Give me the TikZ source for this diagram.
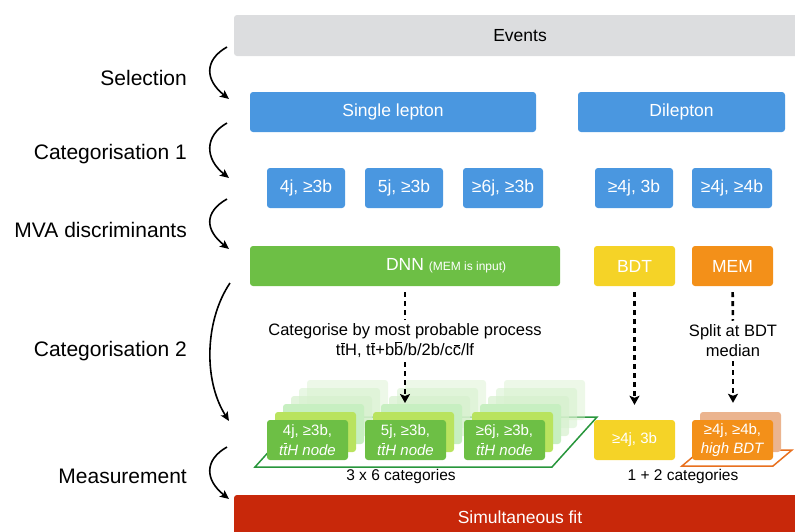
\documentclass[tikz,border=0pt]{standalone}
\usepackage{fontspec}
\setmainfont{Liberation Sans}
\usetikzlibrary{arrows.meta}

\definecolor{evgray}{RGB}{220,221,223}
\definecolor{lepblue}{RGB}{74,151,224}
\definecolor{dnngreen}{RGB}{109,191,69}
\definecolor{limegreen}{RGB}{185,227,94}
\definecolor{palegreen}{RGB}{199,239,193}
\definecolor{ghostgreen}{RGB}{214,240,205}
\definecolor{bdtyellow}{RGB}{245,211,39}
\definecolor{memorange}{RGB}{243,144,25}
\definecolor{paleorange}{RGB}{235,180,143}
\definecolor{fitred}{RGB}{200,40,10}
\definecolor{planegreen}{RGB}{40,150,60}
\definecolor{planeorange}{RGB}{232,112,30}

% bar over a letter (anti-quark)
\newcommand\brr[1]{{\setbox0\hbox{#1}\rlap{\hbox to\wd0{\hss\rule[\dimexpr\ht0+0.08em\relax]{0.8\wd0}{0.065em}\hss}}\box0}}

\begin{document}
\begin{tikzpicture}[x=1pt,y=-1pt,
		box/.style={rectangle,rounded corners=3pt,inner sep=0pt,text=white,align=center,
			font=\fontsize{17.5}{21}\selectfont},
		card/.style={box,minimum width=81,minimum height=40,font=\fontsize{15}{19.5}\selectfont},
		stage/.style={anchor=east,inner sep=0pt,font=\fontsize{21}{25}\selectfont},
		note/.style={align=center,inner sep=1pt,font=\fontsize{16.5}{20}\selectfont},
		count/.style={inner sep=1pt,font=\fontsize{15.5}{19}\selectfont},
		flow/.style={-{Stealth[length=9pt,width=8pt,inset=2pt]},line width=1.6pt},
		dsh/.style={line width=2.6pt,dash pattern=on 5pt off 4pt},
		dtip/.style={dsh,-{Stealth[length=9pt,width=10pt,inset=2pt]}}]

		\useasboundingbox (0,0) rectangle (795,531);
		\clip (0,0) rectangle (795,531);

		% stages on the left
		\node[stage] (sel)  at (187,78)  {Selection};
		\node[stage] (cat1) at (187,154) {Categorisation 1};
		\node[stage] (mva)  at (187,230) {MVA discriminants};
		\node[stage] (cat2) at (187,351) {Categorisation 2};
		\node[stage] (meas) at (187,476) {Measurement};

		\foreach \n/\ya/\yb in {1/47/99, 2/123/178, 3/199/249, 5/447/499}{
			\coordinate (up\n) at (227,\ya);
			\coordinate (dn\n) at (229,\yb);
			\draw[flow] (up\n) .. controls +(-23,13) and +(-24,-19) .. (dn\n);
		}
		\coordinate (up4) at (230,283);
		\coordinate (dn4) at (229,421);
		\draw[flow] (up4) .. controls +(-25,37) and +(-26,-41) .. (dn4);

		% boxes
		\node[box,fill=evgray,text=black,minimum width=572,minimum height=41] (events) at (520,35.5) {Events};

		\node[box,fill=lepblue,minimum width=286,minimum height=40] (single) at (393,112) {Single lepton};
		\node[box,fill=lepblue,minimum width=207,minimum height=40] (dilep) at (681.5,112) {Dilepton};

		\node[box,fill=lepblue,minimum width=78,minimum height=40] (sl4) at (306,188) {4j, ≥3b};
		\node[box,fill=lepblue,minimum width=78,minimum height=40] (sl5) at (404,188) {5j, ≥3b};
		\node[box,fill=lepblue,minimum width=80,minimum height=40] (sl6) at (503,188) {≥6j, ≥3b};
		\node[box,fill=lepblue,minimum width=78,minimum height=40] (dl3) at (634,188) {≥4j, 3b};
		\node[box,fill=lepblue,minimum width=80,minimum height=40] (dl4) at (732,188) {≥4j, ≥4b};

		\node[box,fill=dnngreen,minimum width=310,minimum height=40] (dnn) at (405,266)
			{DNN\rlap{ \fontsize{12}{14}\selectfont(MEM is input)}};
		\node[box,fill=bdtyellow,minimum width=81,minimum height=40] (bdt) at (634.5,266) {BDT};
		\node[box,fill=memorange,minimum width=81,minimum height=40] (mem) at (732.5,266) {MEM};

		\node[note] (ctext) at (405,341) {Categorise by most probable process\\
			t\brr{t}H, t\brr{t}+b\brr{b}/b/2b/c\brr{c}/lf};
		\node[note] (split) at (733,341) {Split at BDT\\median};

		% planes under the final categories
		\draw[planegreen,line width=1.5pt] (255,467) -- (552,467) -- (597,417) -- (300,417) -- cycle;
		\draw[planeorange,line width=1.5pt] (682,466) -- (773,466) -- (792,450) -- (701,450) -- cycle;

		% stacks of DNN nodes
		\foreach \k/\col/\op in {5/ghostgreen/0.45, 4/ghostgreen/0.55, 3/ghostgreen/0.7,
				2/palegreen/1, 1/limegreen/1}
			\foreach \s/\cx in {a/307.5, b/405.5, c/504.5}
				\node[card,fill=\col,fill opacity=\op] (\s\k) at (\cx+8*\k,440-8*\k) {};

		\node[card,fill=dnngreen] (a0) at (307.5,440) {4j, ≥3b,\\\textit{t\brr{t}H node}};
		\node[card,fill=dnngreen] (b0) at (405.5,440) {5j, ≥3b,\\\textit{t\brr{t}H node}};
		\node[card,fill=dnngreen] (c0) at (504.5,440) {≥6j, ≥3b,\\\textit{t\brr{t}H node}};

		\node[card,fill=bdtyellow] (y0) at (634.5,440) {≥4j, 3b};
		\node[card,fill=paleorange] (o1) at (740.5,432) {};
		\node[card,fill=memorange] (o0) at (732.5,440) {≥4j, ≥4b,\\\textit{high BDT}};

		\node[count] (n36) at (401,476) {3 x 6 categories};
		\node[count] (n12) at (683,476) {1 + 2 categories};

		\node[box,fill=fitred,minimum width=572,minimum height=44] (fit) at (520,517) {Simultaneous fit};

		% dashed flow
		\coordinate (tip5) at (405,403);
		\draw[dsh,shorten <=6pt,shorten >=3pt] (dnn) -- (ctext);
		\draw[dtip,shorten <=3pt] (ctext) -- (tip5);
		\draw[dtip,shorten <=6pt,shorten >=15pt] (bdt) -- (y0);
		\draw[dsh,shorten <=6pt,shorten >=3pt] (mem) -- (split);
		\draw[dtip,shorten <=3pt,shorten >=9pt] (split) -- (split |- o1.north);

\end{tikzpicture}
\end{document}
